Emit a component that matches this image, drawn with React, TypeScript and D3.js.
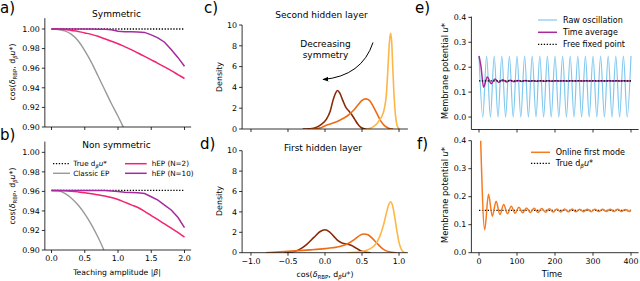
import React from 'react'
import * as d3 from 'd3'

const FONT = '"DejaVu Sans", sans-serif'

// a) / b) cosine similarity vs teaching amplitude
const beta = [0, 0.1, 0.2, 0.3, 0.4, 0.5, 0.6, 0.7, 0.8, 0.9, 1.0, 1.1, 1.2, 1.3, 1.4, 1.5, 1.6, 1.7, 1.8, 1.9, 2.0]
const trueSym = 1.0
const classicSym = [1.0, 0.9995, 0.998, 0.9945, 0.988, 0.978, 0.966, 0.952, 0.938, 0.924, 0.911, 0.897, 0.883]
const hep2Sym = [1.0, 1.0, 0.9995, 0.9985, 0.9975, 0.996, 0.9945, 0.9925, 0.99, 0.9875, 0.985, 0.982, 0.979, 0.9755, 0.972, 0.9685, 0.965, 0.9613, 0.9575, 0.9535, 0.9495]
const hep10Sym = [1.0, 1.0, 1.0, 1.0, 1.0, 1.0, 1.0, 0.9998, 0.9997, 0.9993, 0.9976, 0.9973, 0.9971, 0.9969, 0.9965, 0.994, 0.991, 0.9865, 0.979, 0.971, 0.962]
const trueNonSym = 0.961
const classicNonSym = [0.961, 0.9605, 0.958, 0.953, 0.946, 0.937, 0.926, 0.913, 0.898]
const hep2NonSym = [0.961, 0.961, 0.9607, 0.9602, 0.9595, 0.9587, 0.9577, 0.9565, 0.9553, 0.9537, 0.9517, 0.949, 0.9462, 0.9435, 0.9396, 0.9353, 0.931, 0.9267, 0.9224, 0.918, 0.9133]
const hep10NonSym = [0.961, 0.961, 0.961, 0.961, 0.961, 0.961, 0.961, 0.961, 0.9608, 0.9605, 0.96, 0.9592, 0.9588, 0.9585, 0.9578, 0.9545, 0.951, 0.946, 0.941, 0.9335, 0.923]
const betaTicks = [0, 0.5, 1.0, 1.5, 2.0]
const cosTicks = [0.9, 0.92, 0.94, 0.96, 0.98, 1.0]

// c) / d) density of cos(delta_RBP, d_beta u*)
const secondDark = [[-0.3, 0], [-0.2, 0.03], [-0.12, 0.15], [-0.05, 0.45], [0.02, 0.95], [0.07, 1.7], [0.11, 2.8], [0.15, 3.55], [0.17, 3.7], [0.2, 3.45], [0.24, 2.75], [0.28, 2.1], [0.32, 1.75], [0.36, 1.4], [0.4, 0.95], [0.44, 0.5], [0.48, 0.18], [0.53, 0.03], [0.58, 0]]
const secondMid = [[-0.2, 0], [-0.12, 0.03], [-0.05, 0.15], [0.02, 0.35], [0.1, 0.55], [0.2, 0.85], [0.3, 1.25], [0.38, 1.75], [0.45, 2.35], [0.5, 2.75], [0.55, 2.9], [0.6, 2.75], [0.65, 2.2], [0.7, 1.5], [0.75, 0.8], [0.8, 0.35], [0.86, 0.08], [0.92, 0]]
const secondLight = [[0.55, 0], [0.6, 0.05], [0.65, 0.2], [0.7, 0.5], [0.74, 0.9], [0.77, 1.25], [0.8, 1.9], [0.83, 3.4], [0.85, 5.8], [0.87, 8.3], [0.885, 9.2], [0.9, 8.5], [0.915, 6.0], [0.93, 3.6], [0.95, 1.5], [0.97, 0.45], [0.99, 0.1], [1.01, 0]]
const firstDark = [[-0.55, 0], [-0.45, 0.05], [-0.35, 0.3], [-0.25, 0.8], [-0.15, 1.5], [-0.07, 2.05], [0.0, 2.25], [0.06, 2.05], [0.12, 1.6], [0.18, 1.15], [0.24, 0.92], [0.3, 0.85], [0.36, 0.7], [0.42, 0.45], [0.48, 0.2], [0.55, 0.05], [0.62, 0]]
const firstMid = [[-0.8, 0], [-0.6, 0.08], [-0.4, 0.18], [-0.2, 0.28], [0.0, 0.4], [0.1, 0.48], [0.2, 0.6], [0.3, 0.85], [0.4, 1.3], [0.47, 1.7], [0.53, 1.83], [0.58, 1.75], [0.64, 1.4], [0.7, 0.95], [0.76, 0.5], [0.82, 0.2], [0.9, 0.05], [0.97, 0]]
const firstLight = [[0.3, 0], [0.4, 0.03], [0.5, 0.12], [0.6, 0.35], [0.68, 0.8], [0.74, 1.6], [0.79, 2.7], [0.83, 3.9], [0.86, 4.7], [0.885, 5.0], [0.91, 4.7], [0.94, 3.6], [0.97, 2.2], [1.0, 1.0], [1.03, 0.35], [1.06, 0.08], [1.1, 0]]
const cosXTicks = [-1.0, -0.5, 0.0, 0.5, 1.0]
const densityTicks = [0, 2, 4, 6, 8, 10]

// e) raw oscillation (peaks / troughs) and its running time average
const rawT = [0, 10, 20, 30, 40, 50, 60, 70, 80, 90, 100, 110, 120, 130, 140, 150, 160, 170, 180, 190, 200, 210, 220, 230, 240, 250, 260, 270, 280, 290, 300, 310, 320, 330, 340, 350, 360, 370, 380, 390, 400]
const rawU = [0.245, 0, 0.245, 0, 0.245, 0, 0.245, 0, 0.245, 0, 0.245, 0, 0.245, 0, 0.245, 0, 0.245, 0, 0.245, 0, 0.245, 0, 0.245, 0, 0.245, 0, 0.245, 0, 0.245, 0, 0.245, 0, 0.245, 0, 0.245, 0, 0.245, 0, 0.245, 0, 0.245]
const avgT = [0, 5, 12, 22, 32, 42, 52, 62, 72, 82, 92, 102, 112, 122, 132, 142, 152, 162, 172, 182, 192, 202, 212, 222, 232, 242, 252, 262, 272, 282, 292, 302, 312, 322, 332, 342, 352, 362, 372, 382, 392, 400]
const avgU = [0.245, 0.205, 0.12, 0.161, 0.134, 0.153, 0.139, 0.15, 0.141, 0.148, 0.142, 0.147, 0.143, 0.1465, 0.1435, 0.146, 0.1438, 0.1458, 0.144, 0.1457, 0.1441, 0.1456, 0.1442, 0.1456, 0.1442, 0.1455, 0.1443, 0.1455, 0.1443, 0.1455, 0.1443, 0.1454, 0.1444, 0.1454, 0.1444, 0.1454, 0.1444, 0.1454, 0.1444, 0.1454, 0.1444, 0.1449]
const freeFixedPoint = 0.145

// f) online first mode estimate
const onlineT = [4, 15, 25, 35, 45, 55, 65, 75, 85, 95, 105, 115, 125, 135, 145, 155, 165, 175, 185, 195, 205, 215, 225, 235, 245, 255, 265, 275, 285, 295, 305, 315, 325, 335, 345, 355, 365, 375, 385, 395, 400]
const onlineU = [0.42, 0.082, 0.209, 0.13, 0.184, 0.136, 0.172, 0.139, 0.166, 0.141, 0.162, 0.1425, 0.16, 0.1435, 0.1585, 0.144, 0.1575, 0.1445, 0.157, 0.145, 0.1565, 0.1455, 0.156, 0.146, 0.1558, 0.1462, 0.1556, 0.1464, 0.1554, 0.1466, 0.1552, 0.1468, 0.155, 0.147, 0.1549, 0.1471, 0.1548, 0.1472, 0.1547, 0.1473, 0.151]
const trueFirstMode = 0.151
const timeTicks = [0, 100, 200, 300, 400]
const potentialTicks = [0, 0.1, 0.2, 0.3, 0.4]

const C = {
  pink: '#f2236f',
  purple: '#a62a9f',
  gray: '#999999',
  dark: '#8a2a06',
  mid: '#f06b13',
  light: '#fdb648',
  blue: '#80c8ee',
  avg: '#a8299b',
  orange: '#f47b20',
}

const TICK_FS = 7.9

type Scale = d3.ScaleLinear<number, number>

const pathOf = (xs: number[], ys: number[], sx: Scale, sy: Scale, curve: d3.CurveFactory = d3.curveLinear) =>
  d3.line<number>().x((_, i) => sx(xs[i])).y((d) => sy(d)).curve(curve)(ys) || ''

const pairPath = (pts: number[][], sx: Scale, sy: Scale) =>
  d3.line<number[]>().x((d) => sx(d[0])).y((d) => sy(d[1])).curve(d3.curveMonotoneX)(pts) || ''

function LeftAxis({ y, x0, ticks, fmt }: { y: Scale, x0: number, ticks: number[], fmt: (n: number) => string }) {
  const [b, t] = y.range()
  return (
    <g>
      <line x1={x0} x2={x0} y1={b} y2={t} stroke="#000" strokeWidth={0.8} />
      {ticks.map((v) => (
        <g key={v}>
          <line x1={x0 - 3} x2={x0} y1={y(v)} y2={y(v)} stroke="#000" strokeWidth={0.8} />
          <text x={x0 - 5} y={y(v)} dy="0.35em" textAnchor="end" fontSize={TICK_FS}>{fmt(v)}</text>
        </g>
      ))}
    </g>
  )
}

function BottomAxis({ x, y0, ticks, fmt }: { x: Scale, y0: number, ticks: number[], fmt?: (n: number) => string }) {
  const [l, r] = x.range()
  return (
    <g>
      <line x1={l} x2={r} y1={y0} y2={y0} stroke="#000" strokeWidth={0.8} />
      {ticks.map((v) => (
        <g key={v}>
          <line x1={x(v)} x2={x(v)} y1={y0} y2={y0 + 3} stroke="#000" strokeWidth={0.8} />
          {fmt && <text x={x(v)} y={y0 + 11} textAnchor="middle" fontSize={TICK_FS}>{fmt(v)}</text>}
        </g>
      ))}
    </g>
  )
}

// cos(δ_RBP, d_β u*)
function CosLabel({ fs }: { fs: number }) {
  const s = fs * 0.28
  return (
    <>
      cos(<tspan fontStyle="italic">δ</tspan>
      <tspan fontSize={fs * 0.7} dy={s}>RBP</tspan>
      <tspan dy={-s}>, d</tspan>
      <tspan fontSize={fs * 0.7} dy={s} fontStyle="italic">β</tspan>
      <tspan dy={-s} fontStyle="italic">u</tspan>*)
    </>
  )
}

function Clip({ id, x, y }: { id: string, x: Scale, y: Scale }) {
  const [l, r] = x.range()
  const [b, t] = y.range()
  return (
    <clipPath id={id}>
      <rect x={l} y={t} width={r - l} height={b - t} />
    </clipPath>
  )
}

export default function App() {
  const xAB = d3.scaleLinear().domain([-0.1, 2.1]).range([44.85, 191.15])
  const yA = d3.scaleLinear().domain([0.9, 1.011]).range([127, 18.2])
  const yB = d3.scaleLinear().domain([0.9, 1.011]).range([250, 141.6])
  const xCD = d3.scaleLinear().domain([-1.12, 1.12]).range([242.1, 407.9])
  const yC = d3.scaleLinear().domain([0, 10]).range([129, 25])
  const yD = d3.scaleLinear().domain([0, 10]).range([252.7, 150.7])
  const xEF = d3.scaleLinear().domain([-20, 420]).range([471.4, 638.6])
  const yE = d3.scaleLinear().domain([-0.05, 0.403]).range([129.5, 16.6])
  const yF = d3.scaleLinear().domain([0, 0.4]).range([252.7, 140.7])

  const f2 = d3.format('.2f')
  const f1 = d3.format('.1f')
  const fd = d3.format('d')
  const betaEnd = beta[beta.length - 1]

  const cosPanel = (y: Scale, id: string, tru: number, classic: number[], h2: number[], h10: number[]) => (
    <g>
      <g clipPath={`url(#${id})`} fill="none">
        <line x1={xAB(0)} x2={xAB(betaEnd)} y1={y(tru)} y2={y(tru)} stroke="#000" strokeWidth={1.3} strokeDasharray="1.3,1.6" />
        <path d={pathOf(beta.slice(0, classic.length), classic, xAB, y, d3.curveMonotoneX)} stroke={C.gray} strokeWidth={1.4} />
        <path d={pathOf(beta, h2, xAB, y, d3.curveMonotoneX)} stroke={C.pink} strokeWidth={1.5} />
        <path d={pathOf(beta, h10, xAB, y)} stroke={C.purple} strokeWidth={1.5} />
      </g>
      <LeftAxis y={y} x0={xAB.range()[0]} ticks={cosTicks} fmt={f2} />
    </g>
  )

  const densityPanel = (y: Scale, id: string, sets: number[][][]) => (
    <g>
      <g clipPath={`url(#${id})`} fill="none" strokeWidth={1.6}>
        {sets.map((s, i) => (
          <path key={i} d={pairPath(s, xCD, y)} stroke={[C.dark, C.mid, C.light][i]} />
        ))}
      </g>
      <LeftAxis y={y} x0={xCD.range()[0]} ticks={densityTicks} fmt={fd} />
    </g>
  )

  return (
    <svg width={640} height={281} style={{ position: 'absolute', left: 0, top: 0, background: '#fff' }} fontFamily={FONT}>
      <defs>
        <Clip id="ca" x={xAB} y={yA} />
        <Clip id="cb" x={xAB} y={yB} />
        <Clip id="cc" x={xCD} y={yC} />
        <Clip id="cd" x={xCD} y={yD} />
        <Clip id="ce" x={xEF} y={yE} />
        <Clip id="cf" x={xEF} y={yF} />
        <marker id="arrowhead" viewBox="0 0 10 10" refX={9} refY={5} markerWidth={6} markerHeight={6} orient="auto">
          <path d="M0,1 L10,5 L0,9 Z" fill="#000" />
        </marker>
      </defs>

      {/* panel labels */}
      <g fontSize={15}>
        <text x={0} y={13}>a)</text>
        <text x={0} y={140}>b)</text>
        <text x={204} y={13}>c)</text>
        <text x={200} y={149}>d)</text>
        <text x={415} y={13}>e)</text>
        <text x={417} y={149}>f)</text>
      </g>

      {/* a) symmetric */}
      {cosPanel(yA, 'ca', trueSym, classicSym, hep2Sym, hep10Sym)}
      <BottomAxis x={xAB} y0={yA.range()[0]} ticks={betaTicks} />
      <text x={116.5} y={16.7} textAnchor="middle" fontSize={9}>Symmetric</text>
      <text transform="translate(12,72) rotate(-90)" textAnchor="middle" dy="0.35em" fontSize={7.8}><CosLabel fs={7.8} /></text>

      {/* b) non symmetric */}
      {cosPanel(yB, 'cb', trueNonSym, classicNonSym, hep2NonSym, hep10NonSym)}
      <BottomAxis x={xAB} y0={yB.range()[0]} ticks={betaTicks} fmt={f1} />
      <text x={116.5} y={148.3} textAnchor="middle" fontSize={9}>Non symmetric</text>
      <text transform="translate(12,196) rotate(-90)" textAnchor="middle" dy="0.35em" fontSize={7.8}><CosLabel fs={7.8} /></text>
      <text x={117} y={274.5} textAnchor="middle" fontSize={7.7}>Teaching amplitude |<tspan fontStyle="italic">β</tspan>|</text>
      <g fontSize={7.2}>
        <line x1={53} x2={70} y1={163.7} y2={163.7} stroke="#000" strokeWidth={1.3} strokeDasharray="1.3,1.6" />
        <text x={73.3} y={163.7} dy="0.35em">True d<tspan fontSize={5} dy={2} fontStyle="italic">β</tspan><tspan dy={-2} fontStyle="italic">u</tspan>*</text>
        <line x1={53} x2={70} y1={173.3} y2={173.3} stroke={C.gray} strokeWidth={1.4} />
        <text x={73.3} y={173.3} dy="0.35em">Classic EP</text>
        <line x1={125} x2={146.7} y1={163.7} y2={163.7} stroke={C.pink} strokeWidth={1.5} />
        <text x={151.7} y={163.7} dy="0.35em">hEP (N=2)</text>
        <line x1={125} x2={146.7} y1={173.3} y2={173.3} stroke={C.purple} strokeWidth={1.5} />
        <text x={151.7} y={173.3} dy="0.35em">hEP (N=10)</text>
      </g>

      {/* c) second hidden layer */}
      {densityPanel(yC, 'cc', [secondDark, secondMid, secondLight])}
      <BottomAxis x={xCD} y0={yC.range()[0]} ticks={cosXTicks} />
      <text x={321.5} y={18.3} textAnchor="middle" fontSize={9}>Second hidden layer</text>
      <text transform="translate(219,77) rotate(-90)" textAnchor="middle" dy="0.35em" fontSize={7.9}>Density</text>
      <text x={325.5} y={46.5} textAnchor="middle" fontSize={9}>Decreasing</text>
      <text x={325.5} y={58} textAnchor="middle" fontSize={9}>symmetry</text>
      <path d="M373,42.5 Q362,76 323,79.5" fill="none" stroke="#000" strokeWidth={1} markerEnd="url(#arrowhead)" />

      {/* d) first hidden layer */}
      {densityPanel(yD, 'cd', [firstDark, firstMid, firstLight])}
      <BottomAxis x={xCD} y0={yD.range()[0]} ticks={cosXTicks} fmt={f1} />
      <text x={323} y={150.5} textAnchor="middle" fontSize={9}>First hidden layer</text>
      <text transform="translate(219,201) rotate(-90)" textAnchor="middle" dy="0.35em" fontSize={7.9}>Density</text>
      <text x={325} y={277} textAnchor="middle" fontSize={7.8}><CosLabel fs={7.8} /></text>

      {/* e) raw oscillation */}
      <g clipPath="url(#ce)" fill="none">
        <path d={pathOf(rawT, rawU, xEF, yE, d3.curveMonotoneX)} stroke={C.blue} strokeWidth={1.2} />
        <path d={pathOf(avgT, avgU, xEF, yE, d3.curveMonotoneX)} stroke={C.avg} strokeWidth={1.5} />
        <line x1={xEF(0)} x2={xEF(400)} y1={yE(freeFixedPoint)} y2={yE(freeFixedPoint)} stroke="#000" strokeWidth={1.2} strokeDasharray="1.3,1.6" />
      </g>
      <LeftAxis y={yE} x0={xEF.range()[0]} ticks={potentialTicks} fmt={f1} />
      <BottomAxis x={xEF} y0={yE.range()[0]} ticks={timeTicks} />
      <text transform="translate(445,71) rotate(-90)" textAnchor="middle" dy="0.35em" fontSize={8.3}>Membrane potential <tspan fontStyle="italic">u</tspan>*</text>
      <g fontSize={8}>
        <line x1={538} x2={557} y1={20} y2={20} stroke={C.blue} strokeWidth={1.2} />
        <text x={563} y={20} dy="0.35em">Raw oscillation</text>
        <line x1={538} x2={557} y1={32.3} y2={32.3} stroke={C.avg} strokeWidth={1.5} />
        <text x={563} y={32.3} dy="0.35em">Time average</text>
        <line x1={538} x2={557} y1={44.3} y2={44.3} stroke="#000" strokeWidth={1.2} strokeDasharray="1.3,1.6" />
        <text x={563} y={44.3} dy="0.35em">Free fixed point</text>
      </g>

      {/* f) online first mode */}
      <g clipPath="url(#cf)" fill="none">
        <line x1={xEF(0)} x2={xEF(400)} y1={yF(trueFirstMode)} y2={yF(trueFirstMode)} stroke="#000" strokeWidth={1.2} strokeDasharray="1.3,1.6" />
        <path d={pathOf(onlineT, onlineU, xEF, yF, d3.curveMonotoneX)} stroke={C.orange} strokeWidth={1.5} />
      </g>
      <LeftAxis y={yF} x0={xEF.range()[0]} ticks={potentialTicks} fmt={f1} />
      <BottomAxis x={xEF} y0={yF.range()[0]} ticks={timeTicks} fmt={fd} />
      <text transform="translate(445,195) rotate(-90)" textAnchor="middle" dy="0.35em" fontSize={8.3}>Membrane potential <tspan fontStyle="italic">u</tspan>*</text>
      <text x={552} y={277} textAnchor="middle" fontSize={8.3}>Time</text>
      <g fontSize={8}>
        <line x1={531} x2={550} y1={152.3} y2={152.3} stroke={C.orange} strokeWidth={1.5} />
        <text x={555.7} y={152.3} dy="0.35em">Online first mode</text>
        <line x1={531} x2={550} y1={163.3} y2={163.3} stroke="#000" strokeWidth={1.2} strokeDasharray="1.3,1.6" />
        <text x={555.7} y={163.3} dy="0.35em">True d<tspan fontSize={5.6} dy={2} fontStyle="italic">β</tspan><tspan dy={-2} fontStyle="italic">u</tspan>*</text>
      </g>
    </svg>
  )
}
